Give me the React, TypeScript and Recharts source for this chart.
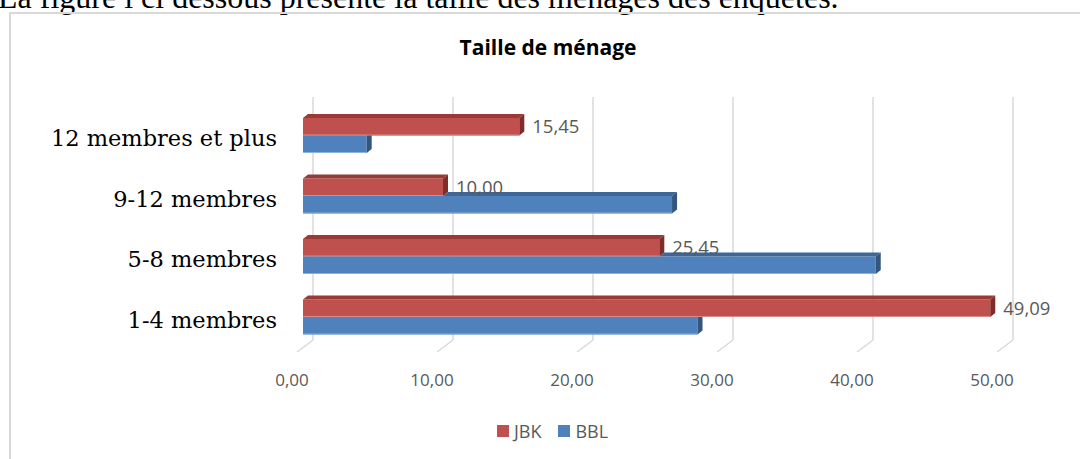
import React from 'react';
import { BarChart, Bar, XAxis, YAxis, CartesianGrid, LabelList } from 'recharts';

const categories = ['12 membres et plus', '9-12 membres', '5-8 membres', '1-4 membres'];
const jbkValues = [15.45, 10.0, 25.45, 49.09];
const bblValues = [4.55, 26.36, 40.91, 28.18];
const xTicks = [0, 10, 20, 30, 40, 50];
const seriesNames = ['JBK', 'BBL'];
const chartTitle = 'Taille de ménage';
const introText = 'La figure i ci dessous présente la taille des ménages des enquêtés.';

const data = categories.map((cat, i) => ({ cat, JBK: jbkValues[i], BBL: bblValues[i] }));

const RED = '#C0504D';
const RED_TOP = '#9A3A37';
const RED_SIDE = '#7E2D2B';
const BLUE = '#4F81BD';
const BLUE_TOP = '#3E6696';
const BLUE_SIDE = '#34557D';
const DX = 5;
const DY = 4;
const GREY_TEXT = '#595959';
const SANS = '"Open Sans", "Noto Sans", sans-serif';

const fmt = (v: number) => v.toFixed(2).replace('.', ',');

const RedShape = (p: any) => {
  const { x, y, width: w, height: h } = p;
  if (w == null || h == null) return null;
  return (
    <g>
      <rect x={x} y={y} width={w} height={h} fill={RED} />
      <line x1={x} y1={y + h - 0.5} x2={x + w} y2={y + h - 0.5} stroke="#D88A88" strokeWidth={1} />
      <polygon points={`${x},${y} ${x + DX},${y - DY} ${x + w + DX},${y - DY} ${x + w},${y}`} fill={RED_TOP} />
      <polygon points={`${x + w},${y} ${x + w + DX},${y - DY} ${x + w + DX},${y + h - DY} ${x + w},${y + h}`} fill={RED_SIDE} />
    </g>
  );
};

const BlueShape = (p: any) => {
  const { x, y, width: w, height: h, payload } = p;
  if (w == null || h == null) return null;
  const ratio = payload && payload.BBL ? payload.JBK / payload.BBL : 0;
  const redEnd = x + w * ratio;
  const end = x + w;
  const topVisible = redEnd < end;
  return (
    <g>
      <rect x={x} y={y} width={w} height={h} fill={BLUE} />
      <line x1={x} y1={y + h - 0.5} x2={x + w} y2={y + h - 0.5} stroke="#8DB0DC" strokeWidth={1} />
      {topVisible && (
        <polygon points={`${redEnd},${y} ${redEnd + DX},${y - DY} ${end + DX},${y - DY} ${end},${y}`} fill={BLUE_TOP} />
      )}
      {topVisible ? (
        <polygon points={`${end},${y} ${end + DX},${y - DY} ${end + DX},${y + h - DY} ${end},${y + h}`} fill={BLUE_SIDE} />
      ) : (
        <polygon points={`${end},${y} ${end + DX},${y} ${end + DX},${y + h - DY} ${end},${y + h}`} fill={BLUE_SIDE} />
      )}
    </g>
  );
};

const GridLine = (p: any) => {
  const { x1, y1, y2 } = p;
  return (
    <g key={p.key}>
      <line x1={x1 + 10} y1={y1 - 8} x2={x1 + 10} y2={y2 - 7} stroke="#D9D9D9" strokeWidth={1.5} />
      <line x1={x1 + 10} y1={y2 - 7} x2={x1 - 6} y2={y2 + 5} stroke="#D9D9D9" strokeWidth={1.5} />
    </g>
  );
};

const XTick = (p: any) => (
  <text x={p.x - 11} y={p.y + 24} textAnchor="middle" dominantBaseline="central" fill={GREY_TEXT} fontFamily={SANS} fontSize={17}>
    {fmt(p.payload.value)}
  </text>
);

const YTick = (p: any) => (
  <text x={p.x} y={p.y + 3} textAnchor="end" dominantBaseline="central" fill="#000" fontFamily='"DejaVu Serif", serif' fontSize={22.5}>
    {p.payload.value}
  </text>
);

export default function App() {
  return (
    <div style={{ position: 'absolute', left: 0, top: 0, width: 1080, height: 459, overflow: 'hidden', background: '#fff' }}>
      <div style={{ position: 'absolute', left: -2, top: -23, whiteSpace: 'nowrap', fontFamily: '"Liberation Serif", serif', fontSize: 32, color: '#000', lineHeight: '40px' }}>
        {introText}
      </div>
      <div style={{ position: 'absolute', left: 9, top: 12, width: 1100, height: 500, border: '2px solid #D9D9D9', boxSizing: 'border-box' }} />
      <div style={{ position: 'absolute', left: 0, width: 1096, top: 34, textAlign: 'center', fontFamily: SANS, fontWeight: 700, fontSize: 21, color: '#000', lineHeight: '26px' }}>
        {chartTitle}
      </div>
      <div style={{ position: 'absolute', left: 0, top: 0 }}>
        <BarChart width={1080} height={459} data={data} layout="vertical" barSize={17.5} barGap={0}
          margin={{ top: 105, right: 77, bottom: 82, left: 13 }}>
          <CartesianGrid horizontal={false} vertical={GridLine} />
          <XAxis type="number" domain={[0, 50]} ticks={xTicks} axisLine={false} tickLine={false} height={30} tick={XTick} interval={0} />
          <YAxis type="category" dataKey="cat" width={290} axisLine={false} tickLine={false} tickSize={0} tickMargin={26} tick={YTick} />
          <Bar dataKey="JBK" name={seriesNames[0]} fill={RED} shape={RedShape} isAnimationActive={false}>
            <LabelList dataKey="JBK" position="right" offset={13} formatter={(v: any) => fmt(Number(v))} fill={GREY_TEXT} fontFamily={SANS} fontSize={18.5} />
          </Bar>
          <Bar dataKey="BBL" name={seriesNames[1]} fill={BLUE} shape={BlueShape} isAnimationActive={false} />
        </BarChart>
      </div>
      <div style={{ position: 'absolute', left: 497, top: 419, display: 'flex', alignItems: 'center', fontFamily: SANS, fontSize: 18, color: GREY_TEXT, lineHeight: '24px' }}>
        <span style={{ display: 'inline-block', width: 12, height: 12, background: RED, marginRight: 5 }} />
        <span style={{ marginRight: 17 }}>{seriesNames[0]}</span>
        <span style={{ display: 'inline-block', width: 12, height: 12, background: BLUE, marginRight: 5 }} />
        <span>{seriesNames[1]}</span>
      </div>
    </div>
  );
}
